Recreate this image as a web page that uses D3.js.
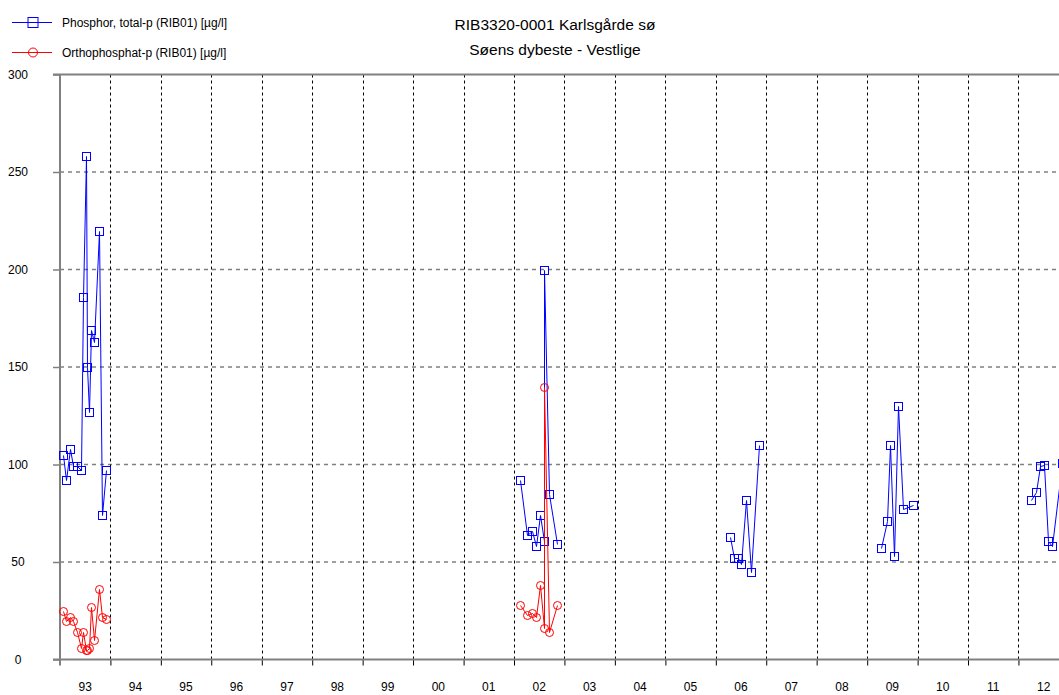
<!DOCTYPE html>
<html>
<head>
<meta charset="utf-8">
<script src="https://cdn.jsdelivr.net/npm/d3@7"></script>
<style>
	body { margin: 0; background: #fff; }
	text { font-family: "Liberation Sans", Arial, sans-serif; }
</style>
</head>
<body>
<div id="chart-area"></div>
<script>

// chart texts
let titleLines = ["RIB3320-0001 Karlsgårde sø", "Søens dybeste - Vestlige"];
let seriesNames = ["Phosphor, total-p (RIB01) [µg/l]", "Orthophosphat-p (RIB01) [µg/l]"];
let yTicks = [0, 50, 100, 150, 200, 250, 300];
let years = d3.range(1993, 2013);

// total phosphorus samples
let totalDates = [
	"1993-01-20", "1993-02-15", "1993-03-11", "1993-04-06", "1993-05-05", "1993-06-04", "1993-06-15",
	"1993-07-05", "1993-07-19", "1993-08-02", "1993-08-12", "1993-09-03", "1993-10-11", "1993-10-31", "1993-11-29",
	"2002-02-14", "2002-04-07", "2002-05-08", "2002-06-07", "2002-07-09", "2002-08-04", "2002-08-08", "2002-09-08", "2002-11-07",
	"2006-04-15", "2006-05-12", "2006-06-14", "2006-07-01", "2006-08-04", "2006-09-16", "2006-11-08",
	"2009-04-10", "2009-05-21", "2009-06-12", "2009-07-11", "2009-08-13", "2009-09-18", "2009-11-30",
	"2012-04-04", "2012-05-08", "2012-06-06", "2012-07-01", "2012-08-01", "2012-09-01", "2012-11-10"
];
let totalValues = [
	105, 92, 108, 99, 99, 97, 186, 258, 150, 127, 169, 163, 220, 74, 97,
	92, 64, 66, 58, 74, 61, 200, 85, 59,
	63, 52, 52, 49, 82, 45, 110,
	57, 71, 110, 53, 130, 77, 79,
	82, 86, 99, 100, 61, 58, 101
];

// orthophosphate samples
let orthoDates = [
	"1993-01-20", "1993-02-15", "1993-03-11", "1993-04-06", "1993-05-05", "1993-06-04", "1993-06-15",
	"1993-07-05", "1993-07-19", "1993-08-02", "1993-08-12", "1993-09-03", "1993-10-11", "1993-10-31", "1993-11-29",
	"2002-02-14", "2002-04-07", "2002-05-08", "2002-06-07", "2002-07-09", "2002-08-04", "2002-08-08", "2002-09-08", "2002-11-07"
];
let orthoValues = [
	25, 20, 22, 20, 14, 6, 14, 5, 5, 6, 27, 10, 36, 22, 21,
	28, 23, 24, 22, 38, 16, 140, 14, 28
];

let totalColor = "#0000ff";
	orthoColor = "#ff0000";
	axisColor = "#808080";

let width = 1059;
let height = 695;
let plot = {left: 60, top: 74.5, bottom: 659.5, right: 1069};

let parseDate = d3.timeParse("%Y-%m-%d");
let formatYear = d3.timeFormat("%y");

let totalData = totalDates.map((d, i) => ({date: parseDate(d), value: totalValues[i]}));
let orthoData = orthoDates.map((d, i) => ({date: parseDate(d), value: orthoValues[i]}));

let svg = d3.select("#chart-area").append("svg")
	.attr("width", width)
	.attr("height", height);

// Scales
let x = d3.scaleTime()
	.domain([new Date(1993, 0, 1), new Date(2013, 0, 1)])
	.range([plot.left, plot.right]);

let y = d3.scaleLinear()
	.domain([0, 300])
	.range([plot.bottom, plot.top]);

// snap to pixel centres so 1px strokes stay crisp
let px = v => Math.round(v) + 0.5;

// horizontal grid
svg.append("g")
	.selectAll("line")
	.data(yTicks.filter(d => d > 0 && d < 300))
	.enter().append("line")
	.attr("x1", plot.left)
	.attr("x2", width)
	.attr("y1", d => y(d))
	.attr("y2", d => y(d))
	.attr("stroke", axisColor)
	.attr("stroke-width", 1.5)
	.attr("stroke-dasharray", "4,4");

// vertical grid at year boundaries
svg.append("g")
	.selectAll("line")
	.data(years.slice(1))
	.enter().append("line")
	.attr("x1", d => px(x(new Date(d, 0, 1))))
	.attr("x2", d => px(x(new Date(d, 0, 1))))
	.attr("y1", plot.top)
	.attr("y2", plot.bottom)
	.attr("stroke", "#000")
	.attr("stroke-width", 1)
	.attr("stroke-dasharray", "3,3");

// y axis
let yAxis = d3.axisLeft(y)
	.tickValues(yTicks)
	.tickSize(0)
	.tickFormat(d3.format("d"));

let yAxisG = svg.append("g")
	.attr("transform", "translate(" + plot.left + ",0)")
	.call(yAxis);
yAxisG.select(".domain").remove();
yAxisG.selectAll("text")
	.attr("x", -42)
	.attr("text-anchor", "middle")
	.attr("font-size", 12)
	.attr("fill", "#000");
yAxisG.selectAll(".tick").append("line")
	.attr("x1", -7)
	.attr("x2", 0)
	.attr("stroke", axisColor)
	.attr("stroke-width", 1.5);

// x axis (ticks at year starts, labels mid-year)
let xAxis = d3.axisBottom(x)
	.tickValues(years.slice(1).map(d => new Date(d, 0, 1)))
	.tickSize(6)
	.tickFormat("");

let xAxisG = svg.append("g")
	.attr("transform", "translate(0," + plot.bottom + ")")
	.call(xAxis);
xAxisG.select(".domain").remove();
xAxisG.selectAll(".tick line").attr("stroke", "#000");

svg.append("g")
	.selectAll("text")
	.data(years)
	.enter().append("text")
	.attr("x", d => x(new Date(d, 6, 2)))
	.attr("y", 691)
	.attr("text-anchor", "middle")
	.attr("font-size", 12)
	.text(d => formatYear(new Date(d, 0, 1)));

// frame lines
svg.append("line")
	.attr("x1", plot.left - 7).attr("x2", width)
	.attr("y1", plot.top).attr("y2", plot.top)
	.attr("stroke", axisColor).attr("stroke-width", 2);
svg.append("line")
	.attr("x1", plot.left - 7).attr("x2", width)
	.attr("y1", plot.bottom).attr("y2", plot.bottom)
	.attr("stroke", axisColor).attr("stroke-width", 2);
svg.append("line")
	.attr("x1", plot.left).attr("x2", plot.left)
	.attr("y1", plot.top).attr("y2", plot.bottom + 6)
	.attr("stroke", axisColor).attr("stroke-width", 2);

// series
let line = d3.line()
	.x(d => px(x(d.date)))
	.y(d => px(y(d.value)));

// split into sampling campaigns so gaps are not joined
function campaigns(data) {
	return d3.groups(data, d => d.date.getFullYear()).map(g => g[1]);
}

function drawSeries(data, color, shape) {
	let g = svg.append("g");
	g.selectAll("path")
		.data(campaigns(data))
		.enter().append("path")
		.attr("fill", "none")
		.attr("stroke", color)
		.attr("stroke-width", 1)
		.attr("d", line);

	if (shape === "square") {
		g.selectAll("rect")
			.data(data)
			.enter().append("rect")
			.attr("x", d => px(x(d.date)) - 4)
			.attr("y", d => px(y(d.value)) - 4)
			.attr("width", 8)
			.attr("height", 8)
			.attr("fill", "none")
			.attr("stroke", color);
	} else {
		g.selectAll("circle")
			.data(data)
			.enter().append("circle")
			.attr("cx", d => px(x(d.date)))
			.attr("cy", d => px(y(d.value)))
			.attr("r", 4)
			.attr("fill", "none")
			.attr("stroke", color);
	}
}

drawSeries(totalData, totalColor, "square");
drawSeries(orthoData, orthoColor, "circle");

// title
svg.append("g")
	.selectAll("text")
	.data(titleLines)
	.enter().append("text")
	.attr("x", 555)
	.attr("y", (d, i) => 30 + i * 25)
	.attr("text-anchor", "middle")
	.attr("font-size", 15.5)
	.text(d => d);

// legend
let legend = svg.append("g")
	.selectAll("g")
	.data(seriesNames)
	.enter().append("g")
	.attr("transform", (d, i) => "translate(0," + (22.5 + i * 30) + ")");

legend.append("line")
	.attr("x1", 12).attr("x2", 52)
	.attr("stroke", (d, i) => i === 0 ? totalColor : orthoColor);
legend.filter((d, i) => i === 0).append("rect")
	.attr("x", 28).attr("y", -5).attr("width", 10).attr("height", 10)
	.attr("fill", "none").attr("stroke", totalColor);
legend.filter((d, i) => i === 1).append("circle")
	.attr("cx", 33).attr("r", 4.5)
	.attr("fill", "none").attr("stroke", orthoColor);
legend.append("text")
	.attr("x", 62)
	.attr("y", 4)
	.attr("font-size", 12)
	.text(d => d);

</script>
</body>
</html>
